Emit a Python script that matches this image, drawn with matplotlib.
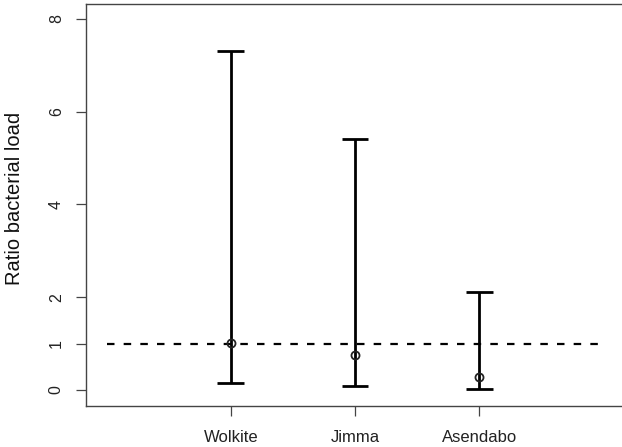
import numpy as np
import matplotlib
matplotlib.use("Agg")
import matplotlib.pyplot as plt

plt.rcParams['font.family'] = ['Liberation Sans', 'DejaVu Sans']

sites = ['Wolkite', 'Jimma', 'Asendabo']
ratio = [1.01, 0.76, 0.28]
lower = [0.14, 0.08, 0.03]
upper = [7.31, 5.42, 2.11]
yticks = [0, 1, 2, 4, 6, 8]

x = np.arange(1, len(sites) + 1)

fig = plt.figure(figsize=(6.22, 4.47), dpi=100)
ax = fig.add_axes([86 / 622, 41 / 447, 538 / 622, 402 / 447])

# reference line at ratio 1
lw_ref = 1.6
ax.plot([0, 4], [1, 1], color='black', lw=lw_ref,
        linestyle=(0, (5.4 / lw_ref, 6.6 / lw_ref)))

# confidence intervals with flat caps
ax.vlines(x, lower, upper, color='black', lw=2.0)
cap = 0.108
ax.hlines(lower, x - cap, x + cap, color='black', lw=2.0)
ax.hlines(upper, x - cap, x + cap, color='black', lw=2.0)
ax.plot(x, ratio, 'o', mfc='none', mec='#222222', mew=1.3, ms=5.8)

ax.set_xlim(-0.165, 4.165)
ax.set_ylim(-0.345, 8.32)
ax.set_xticks(x)
ax.set_xticklabels(sites, fontsize=12, color='#222222')
ax.set_yticks(yticks)
ax.set_yticklabels([str(v) for v in yticks], rotation=90, va='center',
                   fontsize=11.5, color='#222222')
ax.tick_params(axis='both', length=7, width=0.9, color='#444444')
ax.tick_params(axis='x', pad=10)
ax.tick_params(axis='y', pad=9)
for s in ax.spines.values():
    s.set_color('#444444')
    s.set_linewidth(1.0)
ax.spines['right'].set_visible(False)

fig.text(15 / 622, 1 - 198 / 447, 'Ratio bacterial load', rotation=90,
         ha='center', va='center', fontsize=14.5, color='#111111')

fig.savefig('out.png', dpi=100)
